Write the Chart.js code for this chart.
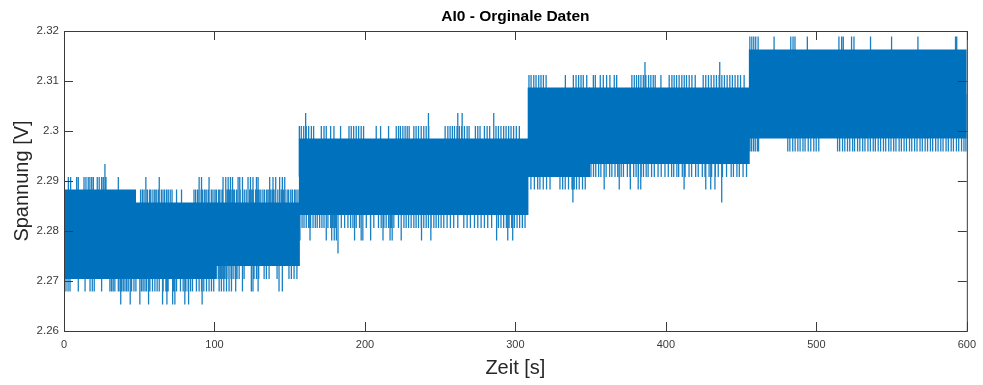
<!DOCTYPE html>
<html>
<head>
<meta charset="utf-8">
<script src="https://cdn.jsdelivr.net/npm/chart.js@4.4.0/dist/chart.umd.min.js"></script>
<style>
  html, body { margin: 0; padding: 0; background: #fff; }
  canvas { display: block; }
</style>
</head>
<body>
<canvas id="signalChart" width="983" height="385"></canvas>
<script>
const xTicks = [0, 100, 200, 300, 400, 500, 600];
const yTicks = [2.26, 2.27, 2.28, 2.29, 2.3, 2.31, 2.32];

// dense part of the signal: time span [s] and voltage span [V]
const coreStart = [0, 47.1, 100.5, 156, 308, 349, 455];
const coreEnd   = [47.1, 100.5, 156, 308, 349, 455, 600];
const coreLow   = [2.2704, 2.2704, 2.2730, 2.2832, 2.2908, 2.2934, 2.2985];
const coreHigh  = [2.2883, 2.2857, 2.2857, 2.2985, 2.3087, 2.3087, 2.3163];

// samples sticking out of the band: reached voltage and the times [s]
const spikePeak = [2.2908, 2.2934, 2.2883, 2.2704, 2.2679, 2.2653,
                   2.3036, 2.3010, 2.2806, 2.2781, 2.2755,
                   2.3112, 2.3138, 2.2908, 2.2883, 2.2857,
                   2.3189, 2.2959];
const spikeTimes = [
  [2.9, 4.4, 8.4, 9.5, 13.3, 14.6, 16.1, 17.2, 18.4, 19.5, 22.1, 23.4, 25.0, 26.1, 27.9, 36.1, 54.4, 63.3, 89.8, 91.4,
   96.4, 105.7, 107.5, 109.1, 110.6, 112.0, 115.7, 116.8, 118.6, 122.3, 123.9, 125.6, 127.9, 129.0, 136.7, 138.9, 140.7, 143.3, 145.1, 146.7],
  [27.2],
  [50.9, 52.1, 53.2, 54.4, 55.4, 56.8, 57.7, 59.1, 60.3, 61.3, 62.6, 63.3, 64.7, 65.8, 66.9, 68.2, 69.3, 70.6, 71.8,
   74.8, 78.1,
   86.4, 87.5, 88.8, 89.8, 91.1, 92.2, 93.5, 94.5, 95.8, 96.4, 97.9, 99.0, 100.3, 101.3, 102.7, 103.6, 105.0, 105.7,
   107.5, 108.5, 109.9, 111.0, 112.4, 113.3, 114.7, 115.7, 117.1, 118.6, 119.8, 121.1, 122.3, 123.4, 124.8, 125.8,
   127.3, 128.3, 129.7, 130.8, 132.2, 133.3, 134.7, 135.7, 137.1, 138.2, 139.6, 140.7, 142.1, 143.3, 144.4, 145.8,
   146.9, 148.3, 149.3, 150.7, 151.8, 153.2, 154.2, 155.5],
  [101.5, 102.8, 104.0, 105.5, 107.0, 108.3, 109.6, 111.0, 112.4, 113.8, 115.0, 116.4, 118.6, 119.7, 126.3, 127.9, 129.4,
   133.0, 134.5, 136.3, 141.6, 149.5, 151.1, 152.9, 154.8],
  [1.3, 2.7, 4.0, 9.5, 14.0, 17.3, 18.8, 20.1, 25.0, 30.5, 31.6, 32.7, 33.8, 36.1, 37.2, 38.3, 39.4, 40.5, 41.6, 42.7,
   44.9, 46.5, 47.8, 50.4, 51.5, 52.6, 53.8, 54.9, 57.1, 58.8, 60.4, 61.9, 63.3, 65.9, 67.7, 69.2, 73.0, 74.8, 77.4, 79.2,
   81.0, 82.5, 84.1, 85.4, 88.0, 89.8, 91.4, 92.9, 94.7, 96.4, 98.0, 99.5, 103.1, 104.6, 106.2, 108.0, 109.7, 111.3, 114.1,
   118.6, 124.5, 125.6, 129.0, 142.9, 145.1],
  [37.7, 44.0, 50.4, 56.2, 65.5, 68.4, 72.2, 73.7, 80.3, 82.8, 91.8],
  [160.6, 242.2, 261.7, 264.6, 285.6],
  [156.4, 157.7, 159.3, 161.0, 162.6, 164.4, 165.9, 171.0, 172.8, 174.3, 177.2, 179.4, 183.8, 189.4, 190.9, 192.5, 194.2,
   195.8, 197.5, 199.1, 207.5, 210.4, 215.7, 220.8, 222.3, 223.6, 225.2, 226.7, 228.1, 229.4, 232.5, 234.0, 235.6, 237.4,
   239.1, 240.7, 242.4, 253.3, 255.1, 256.6, 258.1, 259.5, 261.2, 262.8, 264.3, 266.1, 267.9, 269.2, 273.4, 275.0, 276.5,
   279.4, 281.2, 282.9, 285.6, 287.1, 288.7, 290.4, 292.2, 293.8, 295.5, 297.1, 298.8, 300.6, 302.6],
  [156.6, 158.2, 159.5, 161.0, 162.6, 163.9, 165.5, 167.0, 168.3, 169.9, 171.4, 172.8, 175.4, 177.2, 178.7, 180.3, 182.1,
   184.3, 186.5, 188.7, 190.5, 192.0, 194.2, 196.4, 198.6, 200.9, 203.7, 205.9, 209.0, 210.8, 212.6, 214.1, 215.7, 217.4,
   219.2, 222.3, 224.1, 225.9, 227.4, 229.0, 230.7, 232.5, 234.0, 235.6, 237.4, 239.1, 240.7, 242.2, 244.0, 245.8, 247.3,
   248.9, 250.6, 252.4, 254.6, 256.8, 259.0, 261.7, 265.7, 267.9, 270.1, 272.8, 275.0, 277.2, 279.4, 281.6, 284.2, 288.7,
   290.4, 292.2, 294.0, 295.8, 297.5, 299.3, 301.1, 302.8, 304.6, 306.4],
  [156.8, 163.5, 174.3, 177.9, 179.6, 181.0, 193.1, 197.5, 198.6, 203.8, 212.0, 216.7, 218.1, 224.1, 237.6, 243.8, 287.5,
   294.9, 298.2],
  [182.1],
  [309.0, 310.4, 312.2, 313.7, 315.5, 317.0, 318.6, 320.4, 333.2, 338.5, 340.3, 342.0, 343.6, 345.1, 347.4, 351.8, 353.1,
   356.4, 358.4, 360.6, 362.8, 365.7, 367.3, 377.4, 379.0, 380.5, 381.9, 383.4, 385.0, 386.7, 388.5, 390.0, 391.6, 392.9,
   396.7, 402.2, 404.0, 405.5, 407.1, 408.8, 410.6, 412.2, 413.7, 415.5, 417.3, 419.5, 424.8, 426.5, 428.3, 430.1, 431.9,
   433.6, 435.4, 437.2, 438.9, 440.7, 442.5, 444.2, 446.0, 447.8, 449.6, 452.0],
  [386.1, 435.8],
  [350.2, 351.9, 353.4, 355.3, 356.8, 358.9, 360.3, 362.6, 364.1, 366.2, 368.0, 370.3, 371.8, 374.4, 376.1, 378.6, 380.2,
   381.7, 383.6, 385.1, 386.9, 388.2, 390.5, 392.3, 394.8, 396.9, 399.4, 401.6, 403.8, 405.2, 407.3, 408.5, 410.9, 412.8,
   415.4, 417.1, 419.8, 421.5, 424.2, 426.0, 428.7, 430.4, 432.9, 434.8, 437.6, 440.3, 443.4, 444.9, 447.2, 448.8, 451.3, 453.6],
  [310.3, 312.6, 314.8, 316.3, 318.5, 320.7, 323.0, 329.6, 331.4, 333.1, 335.3, 337.6, 339.1, 340.6, 342.4, 344.6, 346.4,
   359.0, 369.0, 376.4, 381.6, 383.3, 412.1, 426.5, 429.8, 432.6],
  [338.2, 437.1],
  [455.8, 457.1, 458.4, 459.7, 461.3, 471.9, 483.0, 484.5, 485.8, 494.0, 515.0, 516.8, 517.9, 523.4, 525.0, 536.0, 550.0,
   567.5, 592.5, 593.3],
  [455.8, 456.9, 458.2, 459.4, 460.8, 461.6, 481.0, 482.4, 484.3, 485.9, 487.7, 489.2, 491.1, 492.5, 494.6, 496.3, 498.3,
   499.9, 501.6, 514.1, 515.5, 517.4, 518.9, 520.7, 522.2, 524.1, 525.4, 527.4, 528.9, 530.8, 532.3, 534.3, 535.9, 537.8,
   539.2, 541.1, 542.7, 544.6, 546.1, 548.1, 549.6, 551.4, 552.9, 555.0, 556.5, 558.3, 559.9, 561.9, 563.4, 565.3, 566.9,
   568.9, 570.4, 572.3, 573.9, 575.8, 577.3, 579.3, 580.9, 582.7, 584.2, 586.2, 587.7, 589.6, 591.1, 593.1, 594.6, 596.5,
   598.1, 599.4]
];

const blue = '#0072BD';
const font = "'Liberation Sans', Arial, Helvetica, sans-serif";
const axisColor = '#3a3a3a';

function baseAt(t) {
  for (let i = 0; i < coreStart.length; i++) {
    if (t >= coreStart[i] && t < coreEnd[i]) return (coreLow[i] + coreHigh[i]) / 2;
  }
  const last = coreLow.length - 1;
  return (coreLow[last] + coreHigh[last]) / 2;
}

const spikePoints = [];
spikePeak.forEach((peak, g) => {
  spikeTimes[g].forEach(t => {
    spikePoints.push({x: t, y: baseAt(t)}, {x: t, y: peak}, {x: t, y: null});
  });
});

const datasets = [{
  data: spikePoints,
  borderColor: 'rgba(0,114,189,0.9)',
  borderWidth: 1.3,
  fill: false
}];
coreStart.forEach((t0, i) => {
  // overlap so neighbouring pieces leave no seam
  const t1 = i < coreStart.length - 1 ? coreEnd[i] + 0.8 : coreEnd[i];
  datasets.push({
    data: [{x: t0, y: coreHigh[i]}, {x: t1, y: coreHigh[i]}],
    borderWidth: 0,
    borderColor: 'rgba(0,0,0,0)',
    backgroundColor: blue,
    fill: {value: coreLow[i]}
  });
});

// MATLAB style box with inward ticks on all four sides
const axesBox = {
  id: 'axesBox',
  afterDatasetsDraw(chart) {
    const {ctx, chartArea: a, scales: {x, y}} = chart;
    const len = 9;
    ctx.save();
    ctx.strokeStyle = axisColor;
    ctx.lineWidth = 1;
    ctx.beginPath();
    xTicks.forEach(v => {
      const px = Math.round(x.getPixelForValue(v)) + 0.5;
      ctx.moveTo(px, a.bottom); ctx.lineTo(px, a.bottom - len);
      ctx.moveTo(px, a.top); ctx.lineTo(px, a.top + len);
    });
    yTicks.forEach(v => {
      const py = Math.round(y.getPixelForValue(v)) + 0.5;
      ctx.moveTo(a.left, py); ctx.lineTo(a.left + len, py);
      ctx.moveTo(a.right, py); ctx.lineTo(a.right - len, py);
    });
    ctx.stroke();
    ctx.strokeRect(a.left + 0.5, a.top + 0.5, a.right - a.left, a.bottom - a.top);
    ctx.restore();
  }
};

new Chart(document.getElementById('signalChart'), {
  type: 'line',
  data: { datasets: datasets },
  options: {
    responsive: false,
    animation: false,
    devicePixelRatio: 1,
    events: [],
    elements: { point: { radius: 0 }, line: { tension: 0 } },
    layout: { padding: { left: 0, right: 15, top: 0, bottom: 0 } },
    plugins: {
      legend: { display: false },
      tooltip: { enabled: false },
      title: {
        display: true,
        text: 'AI0 - Orginale Daten',
        fullSize: false,
        color: '#000',
        font: { family: font, size: 15.5, weight: 'bold' },
        padding: { top: 7, bottom: 5.4 }
      }
    },
    scales: {
      x: {
        type: 'linear',
        min: 0,
        max: 600,
        grid: { display: false, drawTicks: false },
        border: { display: false },
        afterBuildTicks: s => { s.ticks = xTicks.map(v => ({value: v})); },
        afterFit: s => { s.height = 54; },
        ticks: { padding: 7, color: axisColor, font: { family: font, size: 11 }, maxRotation: 0, autoSkip: false },
        title: { display: true, text: 'Zeit [s]', color: '#262626', font: { family: font, size: 20 }, padding: { top: 0, bottom: 5 } }
      },
      y: {
        type: 'linear',
        min: 2.26,
        max: 2.32,
        grid: { display: false, drawTicks: false },
        border: { display: false },
        afterBuildTicks: s => { s.ticks = yTicks.map(v => ({value: v})); },
        afterFit: s => { s.width = 64; },
        ticks: { padding: 5, color: axisColor, font: { family: font, size: 11.5 }, autoSkip: false, callback: v => String(v) },
        title: { display: true, text: 'Spannung [V]', color: '#262626', font: { family: font, size: 20 }, padding: { top: 10, bottom: 0 } }
      }
    }
  },
  plugins: [axesBox]
});
</script>
</body>
</html>
